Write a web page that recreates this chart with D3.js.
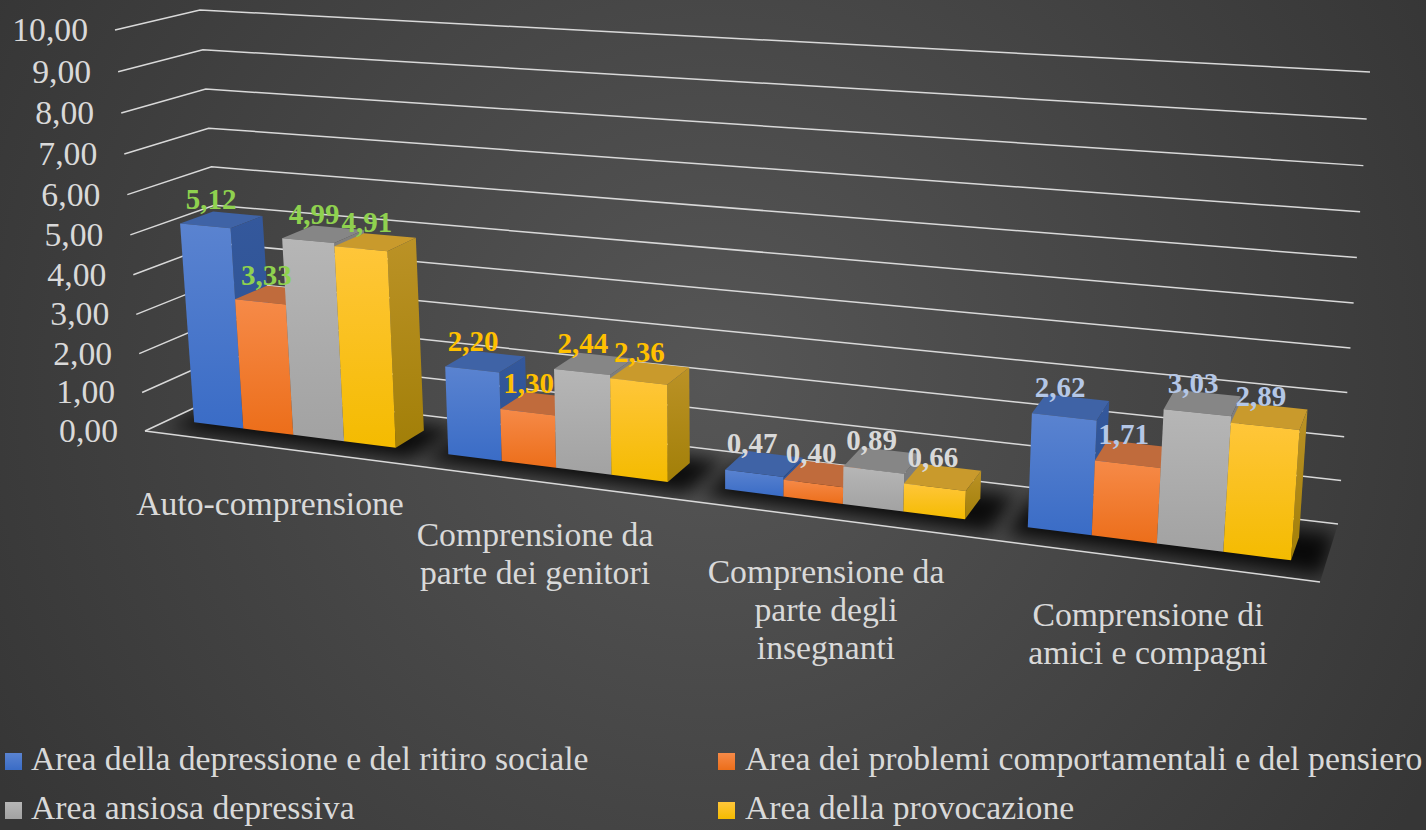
<!DOCTYPE html>
<html>
<head>
<meta charset="utf-8">
<script src="https://cdnjs.cloudflare.com/ajax/libs/d3/7.8.5/d3.min.js"></script>
<style>
body { margin: 0; background: #444; }
svg { display: block; }
text { font-family: "Liberation Serif", serif; }
</style>
</head>
<body>
<svg></svg>
<script>
var width = 1426,
	height = 830;

var categories = ["Auto-comprensione", "Comprensione da parte dei genitori", "Comprensione da parte degli insegnanti", "Comprensione di amici e compagni"];
var categoryLines = [["Auto-comprensione"], ["Comprensione da", "parte dei genitori"], ["Comprensione da", "parte degli", "insegnanti"], ["Comprensione di", "amici e compagni"]];
var seriesNames = ["Area della depressione e del ritiro sociale", "Area dei problemi comportamentali e del pensiero", "Area ansiosa depressiva", "Area della provocazione"];
var depressione = [5.12, 2.20, 0.47, 2.62];
var comportamentali = [3.33, 1.30, 0.40, 1.71];
var ansiosa = [4.99, 2.44, 0.89, 3.03];
var provocazione = [4.91, 2.36, 0.66, 2.89];
var seriesValues = [depressione, comportamentali, ansiosa, provocazione];
var ticks = [0, 1, 2, 3, 4, 5, 6, 7, 8, 9, 10];

var labelColors = ["#8fd14f", "#ffc000", "#d9d9d9", "#b4c7e7"];
var labelShift = [6, 1, -2, -4];
var labelRise = [17, 19, 20, 20];
var frontColors = [["#5a83d0", "#3a6cc6"], ["#f68a48", "#ec6e1a"], ["#b6b6b6", "#a2a2a2"], ["#ffc63a", "#f4bb00"]];
var sideColors = [["#34589c", "#2c5190"], ["#b5622e", "#a85a28"], ["#7f7f7f", "#777777"], ["#bb9226", "#a27f08"]];
var topColors = ["#3f63a6", "#c06b3c", "#868686", "#c99a2c"];

var svg = d3.select("svg")
	.attr("width", width)
	.attr("height", height);

// the corners of the 3d box on screen, [x,y]
var floorFL = [145, 431], floorBL = [228, 392], floorFR = [1320, 582], floorBR = [1338, 524];
var roofFL = [115, 30], roofBL = [200, 10], roofFR = [1352, 108], roofBR = [1370, 72];
var perspective = 1.195,
	perspectiveY = 1.045;

var xBand = d3.scaleBand().domain(categories).range([0, 1]).paddingInner(0.2).paddingOuter(0.1);
var xSeries = d3.scaleBand().domain(seriesNames).range([0, xBand.bandwidth()]);
var yValue = d3.scaleLinear().domain([0, 10]).range([0, 1]);
var depthFront = 0.3, depthBack = 0.7;

function mix(a, b, k) {
	return [a[0] + (b[0] - a[0]) * k, a[1] + (b[1] - a[1]) * k];
}

function project(u, d, v) {
	var t = u / (u + perspective * (1 - u));
	var y = yValue(v);
	var h = y / (y + perspectiveY * (1 - y));
	var low = mix(mix(floorFL, floorFR, t), mix(floorBL, floorBR, t), d);
	var high = mix(mix(roofFL, roofFR, t), mix(roofBL, roofBR, t), d);
	return mix(low, high, h);
}

var line = d3.line();
var defs = svg.append("defs");

var bg = defs.append("radialGradient").attr("id", "bg")
	.attr("gradientUnits", "userSpaceOnUse")
	.attr("cx", 713).attr("cy", 380).attr("r", 820);
bg.append("stop").attr("offset", "0%").attr("stop-color", "#565656");
bg.append("stop").attr("offset", "100%").attr("stop-color", "#363636");

function addGradient(id, c) {
	var g = defs.append("linearGradient").attr("id", id)
		.attr("x1", 0).attr("y1", 0).attr("x2", 0).attr("y2", 1);
	g.append("stop").attr("offset", "0%").attr("stop-color", c[0]);
	g.append("stop").attr("offset", "100%").attr("stop-color", c[1]);
}
frontColors.forEach(function(c, i) { addGradient("front" + i, c); });
sideColors.forEach(function(c, i) { addGradient("side" + i, c); });

defs.append("filter").attr("id", "blur")
	.attr("x", "-30%").attr("y", "-60%").attr("width", "160%").attr("height", "220%")
	.append("feGaussianBlur").attr("stdDeviation", 9);

defs.append("clipPath").attr("id", "floorClip")
	.append("path")
	.attr("d", line([floorFL, floorBL, floorBR, floorFR]) + "Z");

svg.append("rect")
	.attr("width", width)
	.attr("height", height)
	.attr("fill", "url(#bg)");

// shadow on the floor under each group
svg.append("g")
	.attr("clip-path", "url(#floorClip)")
	.selectAll("path")
	.data(categories)
	.enter()
	.append("path")
	.attr("d", function(c) {
		var a = xBand(c) - 0.012, b = xBand(c) + xBand.bandwidth() + 0.025;
		return line([project(a, 0.12, 0), project(b, 0.12, 0), project(b, 0.82, 0), project(a, 0.82, 0)]) + "Z";
	})
	.attr("fill", "#000")
	.attr("opacity", 0.85)
	.attr("filter", "url(#blur)");

// grid lines on the two walls
svg.append("g")
	.selectAll("path")
	.data(ticks)
	.enter()
	.append("path")
	.attr("d", function(v) {
		return line([project(0, 0, v), project(0, 1, v), project(1, 1, v)]);
	})
	.attr("fill", "none")
	.attr("stroke", "#d9d9d9")
	.attr("stroke-width", 1.5);

svg.append("path")
	.attr("d", line([floorFL, floorFR]))
	.attr("fill", "none")
	.attr("stroke", "#d9d9d9")
	.attr("stroke-width", 1.5);

// axis labels
svg.append("g")
	.selectAll("text")
	.data(ticks)
	.enter()
	.append("text")
	.attr("x", function(v) { return project(0, 0, v)[0] - 27; })
	.attr("y", function(v) { return project(0, 0, v)[1] + 11; })
	.attr("text-anchor", "end")
	.attr("font-size", 33.7)
	.attr("fill", "#d9d9d9")
	.text(function(v) { return v.toFixed(2).replace(".", ","); });

// bars, left to right so that each one covers the side of the previous one
categories.forEach(function(c, ci) {
	var group = svg.append("g");
	seriesNames.forEach(function(s, si) {
		var v = seriesValues[si][ci];
		var a = xBand(c) + xSeries(s), b = a + xSeries.bandwidth();
		var bar = group.append("g");
		bar.append("path")
			.attr("d", line([project(a, depthFront, v), project(b, depthFront, v), project(b, depthBack, v), project(a, depthBack, v)]) + "Z")
			.attr("fill", topColors[si]);
		bar.append("path")
			.attr("d", line([project(b, depthFront, 0), project(b, depthBack, 0), project(b, depthBack, v), project(b, depthFront, v)]) + "Z")
			.attr("fill", "url(#side" + si + ")");
		bar.append("path")
			.attr("d", line([project(a, depthFront, 0), project(b, depthFront, 0), project(b, depthFront, v), project(a, depthFront, v)]) + "Z")
			.attr("fill", "url(#front" + si + ")");
	});
});

// value labels go on top of all the bars
categories.forEach(function(c, ci) {
	seriesNames.forEach(function(s, si) {
		var v = seriesValues[si][ci];
		var p = project(xBand(c) + xSeries(s) + xSeries.bandwidth() / 2, depthFront, v);
		svg.append("text")
			.attr("x", p[0] + labelShift[ci])
			.attr("y", p[1] - labelRise[ci])
			.attr("text-anchor", "middle")
			.attr("font-size", 29)
			.attr("font-weight", "bold")
			.attr("fill", labelColors[ci])
			.text(v.toFixed(2).replace(".", ","));
	});
});

// category names
var categoryX = [270, 535, 826, 1148];
var categoryY = [515, 546, 583, 626];
categoryLines.forEach(function(lines, i) {
	var t = svg.append("text")
		.attr("text-anchor", "middle")
		.attr("font-size", 33.7)
		.attr("fill", "#d9d9d9");
	lines.forEach(function(l, j) {
		t.append("tspan")
			.attr("x", categoryX[i])
			.attr("y", categoryY[i] + j * 38)
			.text(l);
	});
});

// legend
var legendX = d3.scaleOrdinal().domain([0, 1]).range([5, 718]);
var legendY = d3.scaleOrdinal().domain([0, 1]).range([753, 802]);
var legend = svg.append("g")
	.selectAll("g")
	.data(seriesNames)
	.enter()
	.append("g")
	.attr("transform", function(d, i) {
		return "translate(" + legendX(i % 2) + "," + legendY(Math.floor(i / 2)) + ")";
	});
legend.append("rect")
	.attr("width", 17)
	.attr("height", 17)
	.attr("fill", function(d, i) { return "url(#front" + i + ")"; });
legend.append("text")
	.attr("x", function(d, i) { return i % 2 ? 27 : 26; })
	.attr("y", 17)
	.attr("font-size", 33.7)
	.attr("fill", "#d9d9d9")
	.text(function(d) { return d; });
</script>
</body>
</html>
